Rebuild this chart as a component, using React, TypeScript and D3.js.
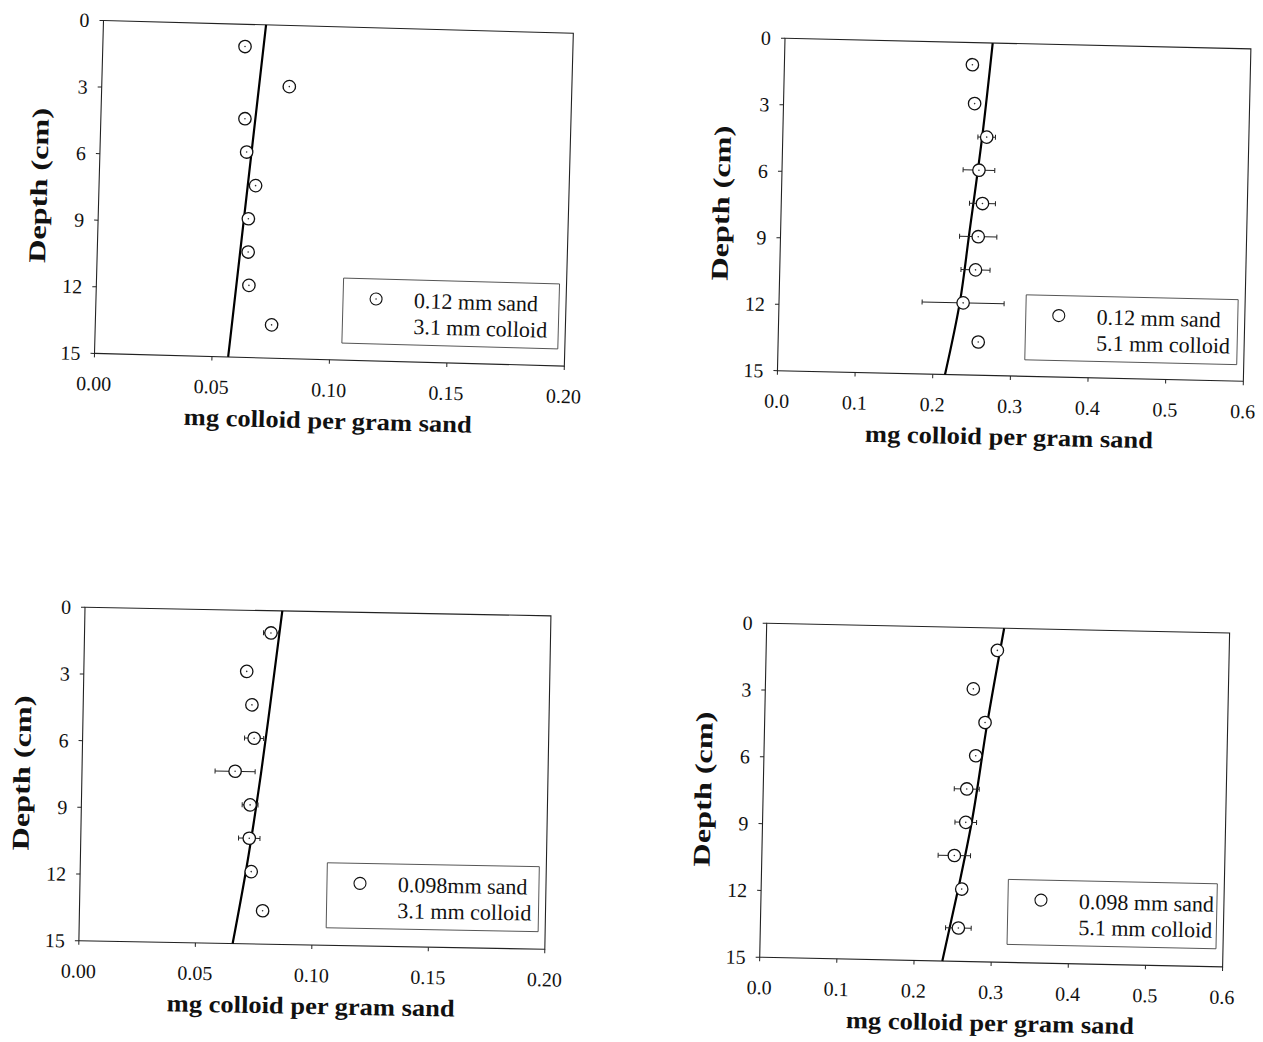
import React from 'react';
import * as d3 from 'd3';

// ---- data ----
const depths = [1.0, 2.75, 4.25, 5.75, 7.25, 8.75, 10.25, 11.75, 13.5];
const depthTicks = [0, 3, 6, 9, 12, 15];
const fineTicks = [0, 0.05, 0.1, 0.15, 0.2];
const coarseTicks = [0, 0.1, 0.2, 0.3, 0.4, 0.5, 0.6];

const p1Values = [0.0605, 0.0798, 0.0613, 0.0624, 0.0666, 0.0639, 0.0642, 0.0649, 0.075];
const p1Errors = [0, 0.0025, 0, 0, 0, 0.0015, 0, 0, 0.0025];
const p1FitDepth = [0, 7.33, 15];
const p1FitValue = [0.0692, 0.0632, 0.0569];
const p1Legend = ['0.12 mm sand', '3.1 mm colloid'];

const p2Values = [0.242, 0.246, 0.2625, 0.2535, 0.259, 0.2545, 0.252, 0.237, 0.2576];
const p2Errors = [0, 0, 0.0113, 0.0204, 0.0167, 0.024, 0.0187, 0.0528, 0];
const p2FitDepth = [0, 4.21, 8.71, 11.7, 15];
const p2FitValue = [0.2675, 0.2568, 0.2426, 0.2329, 0.2158];
const p2Legend = ['0.12 mm sand', '5.1 mm colloid'];

const p3Values = [0.08, 0.0699, 0.0724, 0.0736, 0.0657, 0.0724, 0.0723, 0.0734, 0.0786];
const p3Errors = [0.0032, 0.0015, 0, 0.0041, 0.0086, 0.0034, 0.0046, 0, 0];
const p3FitDepth = [0, 4.27, 7.27, 11.75, 15];
const p3FitValue = [0.0847, 0.0802, 0.0769, 0.0711, 0.066];
const p3Legend = ['0.098mm sand', '3.1 mm colloid'];

const p4Values = [0.2996, 0.2695, 0.2856, 0.2744, 0.2637, 0.2633, 0.2494, 0.2599, 0.2566];
const p4Errors = [0.007, 0, 0.005, 0, 0.0162, 0.014, 0.021, 0, 0.0166];
const p4FitDepth = [0, 4.25, 8.74, 11.72, 15];
const p4FitValue = [0.3078, 0.2886, 0.271, 0.2555, 0.2367];
const p4Legend = ['0.098 mm sand', '5.1 mm colloid'];

const xTitle = 'mg colloid per gram sand';
const yTitle = 'Depth (cm)';

// ---- layout ----
type Spec = {
  ox: number; oy: number; angle: number; w: number; h: number;
  xMax: number; ticks: number[]; fmt: string;
  values: number[]; errors: number[]; fitDepth: number[]; fitValue: number[];
  legend: string[]; legendDot: boolean;
};

const panels: Spec[] = [
  { ox: 103.5, oy: 20.5, angle: 1.55, w: 470, h: 333, xMax: 0.2, ticks: fineTicks, fmt: '.2f',
    values: p1Values, errors: p1Errors, fitDepth: p1FitDepth, fitValue: p1FitValue, legend: p1Legend, legendDot: true },
  { ox: 785, oy: 38.3, angle: 1.3, w: 466, h: 332.5, xMax: 0.6, ticks: coarseTicks, fmt: '.1f',
    values: p2Values, errors: p2Errors, fitDepth: p2FitDepth, fitValue: p2FitValue, legend: p2Legend, legendDot: false },
  { ox: 85, oy: 607.3, angle: 1.05, w: 466, h: 333.5, xMax: 0.2, ticks: fineTicks, fmt: '.2f',
    values: p3Values, errors: p3Errors, fitDepth: p3FitDepth, fitValue: p3FitValue, legend: p3Legend, legendDot: false },
  { ox: 766.7, oy: 623.3, angle: 1.2, w: 463, h: 334, xMax: 0.6, ticks: coarseTicks, fmt: '.1f',
    values: p4Values, errors: p4Errors, fitDepth: p4FitDepth, fitValue: p4FitValue, legend: p4Legend, legendDot: false },
];

const FONT = '"Liberation Serif", "Times New Roman", serif';
const INK = '#111';

function Panel({ s }: { s: Spec }) {
  const x = d3.scaleLinear().domain([0, s.xMax]).range([0, s.w]);
  const y = d3.scaleLinear().domain([0, 15]).range([0, s.h]);
  const fmt = d3.format(s.fmt);
  const fitPts: [number, number][] = s.fitDepth.map((d, i) => [d, s.fitValue[i]]);
  const line = d3.line<[number, number]>()
    .x((d) => x(d[1]))
    .y((d) => y(d[0]))
    .curve(d3.curveMonotoneY);
  const lx = 247;
  const ly = 251;
  const lw = s.w - 7 - lx;
  const lh = 65;
  return (
    <g transform={`translate(${s.ox},${s.oy}) rotate(${s.angle})`} fontFamily={FONT} fill={INK}>
      <rect x={0} y={0} width={s.w} height={s.h} fill="none" stroke="#222" strokeWidth={1.1} />
      {depthTicks.map((t) => (
        <g key={'y' + t}>
          <line x1={-4} x2={0} y1={y(t)} y2={y(t)} stroke="#222" strokeWidth={1} />
          <text x={-14} y={y(t)} dy="0.35em" textAnchor="end" fontSize={20}>{t}</text>
        </g>
      ))}
      {s.ticks.map((t) => (
        <g key={'x' + t}>
          <line x1={x(t)} x2={x(t)} y1={s.h} y2={s.h + 4} stroke="#222" strokeWidth={1} />
          <text x={x(t)} y={s.h + 37} textAnchor="middle" fontSize={20}>{fmt(t)}</text>
        </g>
      ))}
      <text x={s.w / 2} y={s.h + 69} textAnchor="middle" fontSize={24} fontWeight="bold"
        textLength={288} lengthAdjust="spacingAndGlyphs">{xTitle}</text>
      <text transform={`translate(-52,${s.h / 2}) rotate(-90)`} textAnchor="middle" fontSize={24}
        fontWeight="bold" textLength={155} lengthAdjust="spacingAndGlyphs">{yTitle}</text>
      <path d={line(fitPts) || ''} fill="none" stroke="#000" strokeWidth={2.2} />
      {s.values.map((v, i) => {
        const e = s.errors[i];
        if (!e) return null;
        const cy = y(depths[i]);
        const x0 = x(v - e);
        const x1 = x(v + e);
        return (
          <g key={'e' + i} stroke="#222" strokeWidth={1}>
            <line x1={x0} x2={x1} y1={cy} y2={cy} />
            <line x1={x0} x2={x0} y1={cy - 2.5} y2={cy + 2.5} />
            <line x1={x1} x2={x1} y1={cy - 2.5} y2={cy + 2.5} />
          </g>
        );
      })}
      {s.values.map((v, i) => (
        <g key={'c' + i}>
          <circle cx={x(v)} cy={y(depths[i])} r={6.2} fill="#fff" stroke="#111" strokeWidth={1.3} />
          <circle cx={x(v)} cy={y(depths[i])} r={0.8} fill="#333" />
        </g>
      ))}
      <rect x={lx} y={ly} width={lw} height={lh} fill="#fff" stroke="#444" strokeWidth={0.9} />
      <circle cx={lx + 33} cy={ly + 20} r={6} fill="#fff" stroke="#111" strokeWidth={1.1} />
      {s.legendDot && <circle cx={lx + 33} cy={ly + 20} r={0.8} fill="#333" />}
      <text x={lx + 71} y={ly + 28} fontSize={22}>{s.legend[0]}</text>
      <text x={lx + 71} y={ly + 54} fontSize={22}>{s.legend[1]}</text>
    </g>
  );
}

export default function App() {
  return (
    <svg width={1263} height={1042} style={{ position: 'absolute', left: 0, top: 0, background: '#fff' }}>
      <rect x={0} y={0} width={1263} height={1042} fill="#fff" />
      {panels.map((s, i) => (
        <Panel key={i} s={s} />
      ))}
    </svg>
  );
}
